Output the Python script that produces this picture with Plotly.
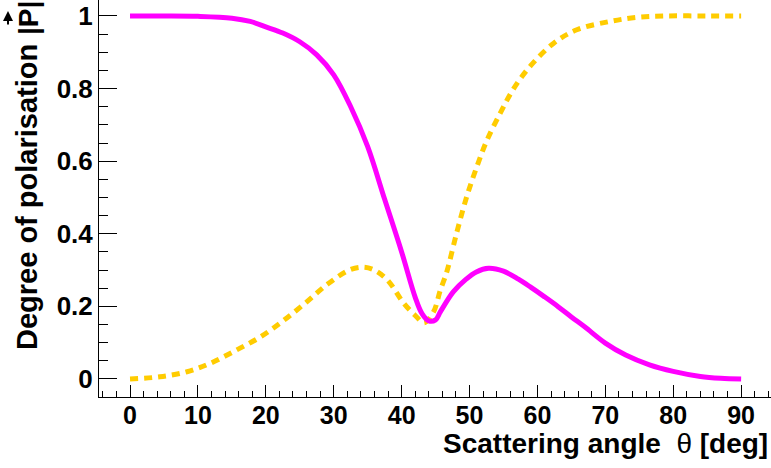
import plotly.graph_objects as go

# Data
theta_magenta = [0, 5, 10, 15, 17.7, 20, 22.5, 25, 27.5, 30, 32.5, 35, 37.5, 40, 42, 43, 44,
                 45, 45.7, 47.6, 49.5, 51, 52.8, 55, 57.2, 59, 61, 63, 65, 67, 70, 73, 76.5,
                 80, 84, 87, 90]
pol_magenta = [1.0, 1.0, 0.999, 0.994, 0.985, 0.97, 0.953, 0.929, 0.893, 0.838, 0.75, 0.64,
               0.495, 0.35, 0.225, 0.18, 0.16, 0.163, 0.185, 0.24, 0.275, 0.295, 0.305,
               0.297, 0.275, 0.253, 0.227, 0.2, 0.171, 0.143, 0.099, 0.066, 0.039, 0.021,
               0.007, 0.002, 0.0]

theta_yellow = [0, 4.4, 8.4, 11.8, 15.7, 19.2, 22.6, 25.8, 29, 32.4, 34.4, 36, 37.9, 40.3,
                42, 43.3, 44.7, 45.7, 46.6, 48.1, 49.6, 51.1, 52.6, 54.6, 56.5, 59, 62.4,
                65.8, 70.7, 74.6, 79, 85, 90]
pol_yellow = [0.0, 0.006, 0.02, 0.043, 0.08, 0.116, 0.161, 0.209, 0.26, 0.301, 0.308, 0.3,
              0.273, 0.209, 0.175, 0.155, 0.185, 0.245, 0.292, 0.402, 0.503, 0.586, 0.659,
              0.735, 0.8, 0.863, 0.925, 0.962, 0.985, 0.996, 1.0, 1.0, 1.0]

FONT = "Liberation Sans, Arial, Helvetica, sans-serif"

fig = go.Figure()
fig.add_trace(go.Scatter(x=theta_yellow, y=pol_yellow, mode="lines",
                         line=dict(color="#ffcc00", width=5, dash="8px,6px", shape="spline"),
                         showlegend=False))
fig.add_trace(go.Scatter(x=theta_magenta, y=pol_magenta, mode="lines",
                         line=dict(color="#ff00ff", width=5, shape="spline"),
                         showlegend=False))

fig.update_layout(
    width=771, height=468,
    margin=dict(l=99, r=0, t=0, b=71),
    paper_bgcolor="white", plot_bgcolor="white",
    font=dict(family=FONT, size=26, color="black"),
)
fig.update_xaxes(
    range=[-4.57, 94.4], showgrid=False, zeroline=False,
    showline=True, linecolor="black", linewidth=1,
    tick0=0, dtick=10, ticks="inside", ticklen=12, tickcolor="black", tickwidth=1,
    minor=dict(dtick=2, tick0=0, ticks="inside", ticklen=6, tickcolor="black", tickwidth=1),
    tickfont=dict(family=FONT, size=25, color="black", weight="bold"),
    ticklabelstandoff=-4,
)
fig.update_yaxes(
    range=[-0.0496, 1.044], showgrid=False, zeroline=False,
    showline=True, linecolor="black", linewidth=1,
    tick0=0, dtick=0.2, ticks="inside", ticklen=18, tickcolor="black", tickwidth=1,
    minor=dict(dtick=0.05, tick0=0, ticks="inside", ticklen=9, tickcolor="black", tickwidth=1),
    tickfont=dict(family=FONT, size=26, color="black", weight="bold"),
    tickformat="~g",
)

def py(px):
    return (397 - px) / 397.0

def px_x(px):
    return (px - 99) / 672.0

fig.add_annotation(
    text="<b>Scattering angle</b>  θ <b>[deg]</b>",
    xref="paper", yref="paper", x=0.9985, y=py(443),
    xanchor="right", yanchor="middle", showarrow=False,
    font=dict(family=FONT, size=28, color="black"),
)
fig.add_annotation(
    text="<b>Degree of polarisation</b>",
    xref="paper", yref="paper", x=px_x(27), y=py(352),
    xanchor="center", yanchor="bottom", textangle=-90, showarrow=False,
    font=dict(family=FONT, size=29, color="black"),
)
fig.add_annotation(
    text="<b>|P|</b>",
    xref="paper", yref="paper", x=px_x(28), y=py(37),
    xanchor="center", yanchor="bottom", textangle=-90, showarrow=False,
    font=dict(family=FONT, size=28, color="black"),
)
# vector arrow over P (drawn as an annotation arrow)
fig.add_annotation(
    text="", xref="paper", yref="paper", x=px_x(8), y=py(11),
    axref="pixel", ayref="pixel", ax=0, ay=15,
    showarrow=True, arrowhead=2, arrowsize=1.0, arrowwidth=2, arrowcolor="black",
)

fig.write_html("out.html")
